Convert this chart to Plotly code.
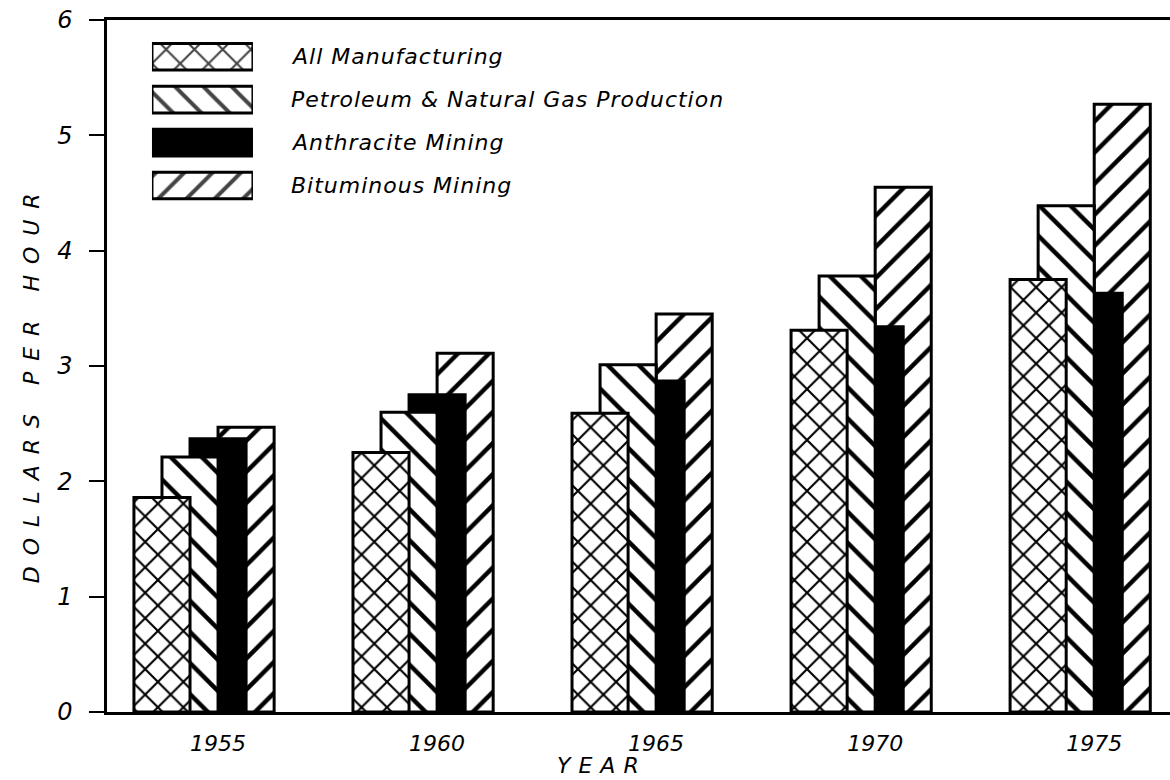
import plotly.graph_objects as go

# Average hourly earnings by industry, dollars per hour
years = ["1955", "1960", "1965", "1970", "1975"]
all_manufacturing = [1.86, 2.25, 2.59, 3.31, 3.75]
petroleum_gas = [2.21, 2.60, 3.01, 3.78, 4.39]
anthracite = [2.37, 2.75, 2.87, 3.34, 3.63]
bituminous = [2.47, 3.11, 3.45, 4.55, 5.27]

series_names = [
    "All Manufacturing",
    "Petroleum & Natural Gas Production",
    "Anthracite Mining",
    "Bituminous Mining",
]
y_ticks = [0, 1, 2, 3, 4, 5, 6]

FONT = "DejaVu Sans"
INK = "black"
BAR_W = 0.256
STEP = 0.128

# pattern per series: (shape, fill colour)
styles = {
    "All Manufacturing": ("x", "white"),
    "Petroleum & Natural Gas Production": ("\\", "white"),
    "Anthracite Mining": ("", INK),
    "Bituminous Mining": ("/", "white"),
}
pattern_size = {"x": 18, "\\": 22, "/": 22, "": 10}
values = {
    "All Manufacturing": all_manufacturing,
    "Petroleum & Natural Gas Production": petroleum_gas,
    "Anthracite Mining": anthracite,
    "Bituminous Mining": bituminous,
}


def spaced(text, px):
    return f'<span style="letter-spacing:{px}px">{text}</span>'


fig = go.Figure()

# overlapping bars: drawn back to front so the left bar sits on top
for idx in [3, 2, 1, 0]:
    name = series_names[idx]
    shape, fill = styles[name]
    fig.add_trace(go.Bar(
        x=years,
        y=values[name],
        name=name,
        width=BAR_W,
        offset=-0.32 + idx * STEP,
        marker=dict(
            color=fill,
            line=dict(color=INK, width=3),
            pattern=dict(shape=shape, fgcolor=INK, bgcolor=fill,
                         fgopacity=1, size=pattern_size[shape],
                         solidity=0.22 if shape == "x" else 0.2,
                         fillmode="overlay"),
        ),
        showlegend=False,
        xaxis="x", yaxis="y",
    ))

# key swatches in the upper left
fig.add_trace(go.Bar(
    x=[1] * len(series_names),
    y=series_names,
    orientation="h",
    width=0.62,
    marker=dict(
        color=[styles[n][1] for n in series_names],
        line=dict(color=INK, width=3),
        pattern=dict(
            shape=[styles[n][0] for n in series_names],
            fgcolor=INK, fgopacity=1,
            bgcolor=[styles[n][1] for n in series_names],
            size=20, solidity=0.2, fillmode="overlay",
        ),
    ),
    showlegend=False,
    xaxis="x2", yaxis="y2",
))

annotations = []
for n in series_names:
    annotations.append(dict(
        text=spaced(n, 1), xref="x2", yref="y2", x=1, y=n, xanchor="left",
        yanchor="middle", xshift=36, showarrow=False,
        font=dict(family=FONT, size=22, color=INK, style="italic"),
    ))

annotations.append(dict(
    text=spaced("DOLLARS PER HOUR", 11),
    xref="paper", yref="paper", x=-0.071, y=0.476,
    textangle=-90, showarrow=False, xanchor="center", yanchor="middle",
    font=dict(family=FONT, size=22, color=INK, style="italic"),
))
annotations.append(dict(
    text=spaced("YEAR", 8),
    xref="paper", yref="paper", x=0.466, y=-0.077,
    showarrow=False, xanchor="center", yanchor="middle",
    font=dict(family=FONT, size=22, color=INK, style="italic"),
))

fig.update_layout(
    width=1170, height=780,
    margin=dict(l=107, r=0, t=20, b=68),
    paper_bgcolor="white", plot_bgcolor="white",
    barmode="overlay",
    showlegend=False,
    annotations=annotations,
    xaxis=dict(
        type="category",
        categoryorder="array", categoryarray=years,
        range=[-0.443, 4.41],
        showgrid=False, zeroline=False,
        showline=True, linecolor=INK, linewidth=2.5, mirror=True,
        ticks="", ticklabelshift=14, ticklabelstandoff=10,
        tickfont=dict(family=FONT, size=22, color=INK, style="italic"),
    ),
    yaxis=dict(
        range=[0, 6],
        tickvals=y_ticks,
        showgrid=False, zeroline=False,
        showline=True, linecolor=INK, linewidth=2.5,
        ticks="outside", ticklen=15, tickwidth=2, tickcolor=INK,
        ticklabelstandoff=12,
        tickfont=dict(family=FONT, size=24, color=INK, style="italic"),
    ),
    xaxis2=dict(
        domain=[0.0423, 0.1373], anchor="y2", range=[0, 1],
        visible=False, fixedrange=True,
    ),
    yaxis2=dict(
        domain=[0.7298, 0.978], anchor="x2",
        type="category", categoryorder="array", categoryarray=series_names,
        autorange="reversed", visible=False, fixedrange=True,
    ),
)

fig.write_html("out.html")
